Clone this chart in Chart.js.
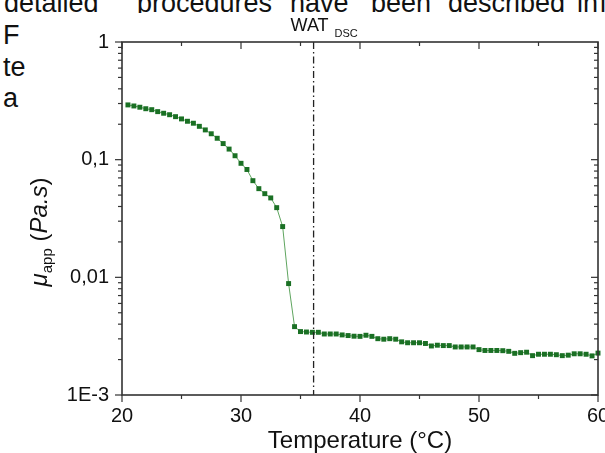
<!DOCTYPE html>
<html lang="es">
<head>
<meta charset="utf-8">
<title>Viscosidad aparente vs temperatura</title>
<script src="https://cdn.jsdelivr.net/npm/chart.js@4.4.0/dist/chart.umd.min.js"></script>
<style>
    body { margin: 0; background: #fff; }
    #lienzo { position: relative; width: 605px; height: 453px; overflow: hidden; background: #fff; }
    #grafica { position: absolute; left: 0; top: 0; }
    .doc { position: absolute; font-family: "Liberation Sans", Arial, sans-serif; font-size: 27px; line-height: 27px; color: #111; white-space: nowrap; }
    .recorte { position: absolute; overflow: hidden; }
</style>
</head>
<body>
<div id="lienzo">
    <!-- restos del texto del documento alrededor de la figura -->
    <div class="recorte" style="left:0;top:0;width:605px;height:13px">
        <span class="doc" style="left:4px;top:-10px">detailed</span>
        <span class="doc" style="left:137px;top:-10px">procedures</span>
        <span class="doc" style="left:290px;top:-10px">have</span>
        <span class="doc" style="left:371px;top:-10px">been</span>
        <span class="doc" style="left:448px;top:-10px">described</span>
        <span class="doc" style="left:577px;top:-10px">in</span>
        <span class="doc" style="left:600px;top:-10px">lit.</span>
    </div>
    <div class="recorte" style="left:0;top:13px;width:25px;height:110px">
        <span class="doc" style="left:3px;top:9px">F</span>
        <span class="doc" style="left:3px;top:41px">te</span>
        <span class="doc" style="left:3px;top:72px">a</span>
    </div>
    <canvas id="grafica" width="605" height="453"></canvas>
</div>

<script>
    // Datos
    const temperatura = [
        20.5, 21, 21.5, 22, 22.5, 23, 23.5, 24, 24.5, 25,
        25.5, 26, 26.5, 27, 27.5, 28, 28.5, 29, 29.5, 30,
        30.5, 31, 31.5, 32, 32.5, 33, 33.5, 34, 34.5, 35,
        35.5, 36, 36.5, 37, 37.5, 38, 38.5, 39, 39.5, 40,
        40.5, 41, 41.5, 42, 42.5, 43, 43.5, 44, 44.5, 45,
        45.5, 46, 46.5, 47, 47.5, 48, 48.5, 49, 49.5, 50,
        50.5, 51, 51.5, 52, 52.5, 53, 53.5, 54, 54.5, 55,
        55.5, 56, 56.5, 57, 57.5, 58, 58.5, 59, 59.5, 60
    ];
    const viscosidad = [
        0.292, 0.286, 0.279, 0.271, 0.266, 0.256, 0.248, 0.241, 0.232, 0.222,
        0.212, 0.204, 0.192, 0.179, 0.166, 0.152, 0.137, 0.123, 0.108, 0.0931,
        0.0825, 0.0663, 0.0567, 0.0514, 0.0473, 0.0391, 0.027, 0.00885, 0.00381, 0.00346,
        0.00343, 0.00341, 0.00341, 0.0033, 0.0033, 0.0033, 0.00324, 0.0032, 0.00316, 0.00315,
        0.00322, 0.00315, 0.00301, 0.00298, 0.00301, 0.00298, 0.00283, 0.00278, 0.00278, 0.00278,
        0.00274, 0.00261, 0.00265, 0.00263, 0.00263, 0.00256, 0.00256, 0.00256, 0.00256, 0.00243,
        0.00239, 0.00239, 0.00239, 0.00238, 0.00235, 0.00226, 0.00229, 0.00231, 0.00216, 0.00222,
        0.00222, 0.00222, 0.0022, 0.00216, 0.00218, 0.00224, 0.00224, 0.00222, 0.00215, 0.00227
    ];

    // Ejes
    const ticksX = [20, 30, 40, 50, 60];
    const ticksY = [0.001, 0.01, 0.1, 1];
    const etiquetasY = ['1E-3', '0,01', '0,1', '1'];
    const watDsc = 36.1;

    const fuente = '"Liberation Sans", Arial, sans-serif';

    function linea(ctx, x1, y1, x2, y2) {
        ctx.beginPath();
        ctx.moveTo(x1, y1);
        ctx.lineTo(x2, y2);
        ctx.stroke();
    }

    // Marco, marcas de los ejes, linea WAT y titulo del eje y
    const pluginMarco = {
        id: 'marco',
        afterDatasetsDraw(chart) {
            const ctx = chart.ctx;
            const a = chart.chartArea;
            const x = chart.scales.x;
            const y = chart.scales.y;
            ctx.save();

            // linea vertical WAT DSC
            const xw = x.getPixelForValue(watDsc);
            ctx.strokeStyle = '#222';
            ctx.lineWidth = 1.3;
            ctx.setLineDash([7, 3, 1.5, 3]);
            linea(ctx, xw, a.top, xw, a.bottom);
            ctx.setLineDash([]);

            ctx.strokeStyle = '#333';
            ctx.lineWidth = 1.6;
            ctx.strokeRect(a.left, a.top, a.right - a.left, a.bottom - a.top);

            ctx.lineWidth = 1.2;
            for (let t = x.min; t <= x.max; t += 5) {
                const px = x.getPixelForValue(t);
                const largo = t % 10 === 0 ? 7 : 4;
                linea(ctx, px, a.bottom, px, a.bottom + largo);
                linea(ctx, px, a.top, px, a.top + largo);
            }
            for (let d = 0; d < ticksY.length - 1; d++) {
                for (let m = 1; m <= 9; m++) {
                    const py = y.getPixelForValue(ticksY[d] * m);
                    const largo = m === 1 ? 7 : 4;
                    linea(ctx, a.left - largo, py, a.left, py);
                    linea(ctx, a.right - largo, py, a.right, py);
                }
            }
            linea(ctx, a.left - 7, a.top, a.left, a.top);

            // etiqueta WAT DSC
            ctx.fillStyle = '#111';
            ctx.textBaseline = 'alphabetic';
            ctx.textAlign = 'center';
            ctx.font = '18px ' + fuente;
            ctx.fillText('WAT', xw - 4, 31);
            ctx.textAlign = 'left';
            ctx.font = '11px ' + fuente;
            ctx.fillText('DSC', xw + 21, 37);

            // titulo del eje y: mu_app (Pa.s)
            const partes = [
                { t: 'μ', f: 'italic 24px ' + fuente, dy: 0 },
                { t: 'app', f: '15px ' + fuente, dy: 5 },
                { t: ' (', f: '24px ' + fuente, dy: 0 },
                { t: 'Pa.s', f: 'italic 24px ' + fuente, dy: 0 },
                { t: ')', f: '24px ' + fuente, dy: 0 }
            ];
            let total = 0;
            partes.forEach(p => { ctx.font = p.f; p.w = ctx.measureText(p.t).width; total += p.w; });
            ctx.translate(47, 232);
            ctx.rotate(-Math.PI / 2);
            let cx = -total / 2;
            partes.forEach(p => {
                ctx.font = p.f;
                ctx.fillText(p.t, cx, p.dy);
                cx += p.w;
            });
            ctx.restore();
        }
    };

    const datos = {
        datasets: [{
            label: 'μapp',
            data: temperatura.map((t, i) => ({ x: t, y: viscosidad[i] })),
            borderColor: 'rgb(95, 165, 95)',
            borderWidth: 1,
            pointStyle: 'rect',
            pointRadius: 3.5,
            pointBackgroundColor: 'rgb(26, 112, 36)',
            pointBorderColor: 'rgb(26, 112, 36)',
            pointBorderWidth: 0,
            tension: 0
        }]
    };

    const config = {
        type: 'line',
        data: datos,
        options: {
            responsive: false,
            animation: false,
            clip: false,
            layout: { padding: { top: 42, right: 7, bottom: 0, left: 0 } },
            plugins: { legend: { display: false }, tooltip: { enabled: false } },
            scales: {
                x: {
                    type: 'linear',
                    min: 20,
                    max: 60,
                    afterBuildTicks: s => { s.ticks = ticksX.map(v => ({ value: v })); },
                    afterFit: s => { s.height = 58; s.paddingLeft = 0; s.paddingRight = 0; },
                    grid: { display: false, drawTicks: false },
                    border: { display: false },
                    ticks: { color: '#111', font: { family: fuente, size: 20 }, padding: 9, maxRotation: 0, autoSkip: false },
                    title: { display: true, text: 'Temperature (°C)', color: '#111', font: { family: fuente, size: 24, lineHeight: 1 }, padding: 0 }
                },
                y: {
                    type: 'logarithmic',
                    min: 0.001,
                    max: 1,
                    afterBuildTicks: s => { s.ticks = ticksY.map(v => ({ value: v })); },
                    afterFit: s => { s.width = 122; s.paddingTop = 0; s.paddingBottom = 0; },
                    grid: { display: false, drawTicks: false },
                    border: { display: false },
                    ticks: {
                        color: '#111',
                        font: { family: fuente, size: 20 },
                        padding: 13,
                        autoSkip: false,
                        callback: (v, i) => etiquetasY[i]
                    }
                }
            }
        },
        plugins: [pluginMarco]
    };

    var grafica = new Chart(document.getElementById('grafica'), config);
</script>
</body>
</html>
